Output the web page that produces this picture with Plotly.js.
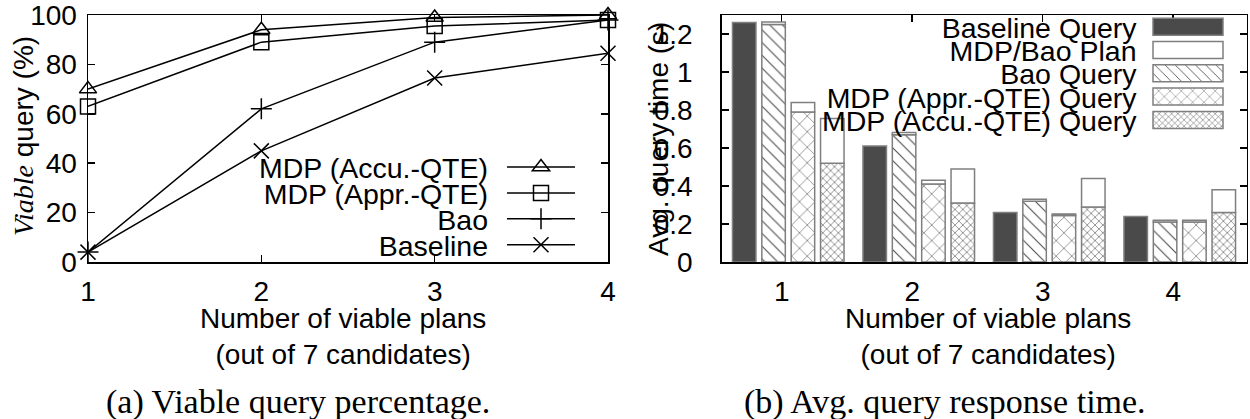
<!DOCTYPE html>
<html>
<head>
<meta charset="utf-8">
<script src="https://cdn.plot.ly/plotly-3.0.1.min.js"></script>
<style>
  html, body { margin: 0; padding: 0; background: #fff; }
  #chart { width: 1250px; height: 419px; }
</style>
</head>
<body>
<div id="chart"></div>
<script>
// Number of viable plans (x categories, shared by both panels)
const plans = [1, 2, 3, 4];

// (a) Viable query percentage (%)
const accuPct = [70, 94, 99, 100];
const apprPct = [63, 89, 95.5, 98];
const baoPct = [4, 62, 89, 98];
const basePct = [4, 45, 74.5, 84.5];

// (b) Average query time (s): execution part
const baselineQuery = [1.26, 0.61, 0.26, 0.24];
const baoQuery = [1.25, 0.67, 0.32, 0.21];
const apprQuery = [0.79, 0.41, 0.245, 0.21];
const accuQuery = [0.52, 0.31, 0.29, 0.26];
// (b) planning overhead stacked on top of each query bar
const baoPlan = [0.013, 0.012, 0.01, 0.01];
const apprPlan = [0.05, 0.02, 0.008, 0.01];
const accuPlan = [0.235, 0.18, 0.15, 0.12];

const W = 1250, H = 419;
const px = v => v / W;
const py = v => (H - v) / H;

const SANS = 'Liberation Sans, Arial, Helvetica, sans-serif';
const SERIF = 'Liberation Serif, Times New Roman, serif';

// ---------- panel (a): lines ----------
function lineTrace(name, y, symbol) {
  return {
    type: 'scatter', mode: 'lines+markers', name, x: plans, y,
    xaxis: 'x', yaxis: 'y', legend: 'legend', cliponaxis: false,
    line: { color: '#000', width: 1.5 },
    marker: { symbol, size: 15, color: '#000', line: { color: '#000', width: 1.5 } }
  };
}

// ---------- panel (b): clustered bars ----------
const slot = 0.225, barW = 0.18;
const at = k => plans.map(g => g + (k - 1.5) * slot);
const EDGE = '#7f7f7f';
const INK = '#4a4a4a';

function barTrace(name, k, y, marker, rank) {
  return {
    type: 'bar', name, x: at(k), y, width: barW,
    xaxis: 'x2', yaxis: 'y2', legend: 'legend2', legendrank: rank,
    marker: Object.assign({ line: { color: EDGE, width: 1.5 } }, marker)
  };
}
const hatch = (shape, size, solidity) => ({
  color: '#fff',
  pattern: { shape, size, solidity, fgcolor: INK, bgcolor: '#fff', fillmode: 'replace' }
});

const traces = [
  lineTrace('MDP (Accu.-QTE)', accuPct, 'triangle-up-open'),
  lineTrace('MDP (Appr.-QTE)', apprPct, 'square-open'),
  lineTrace('Bao', baoPct, 'cross-thin-open'),
  lineTrace('Baseline', basePct, 'x-thin-open'),

  barTrace('Baseline Query', 0, baselineQuery, { color: INK }, 1),
  barTrace('Bao Query', 1, baoQuery, hatch('\\', 9, 0.12), 3),
  barTrace('MDP (Appr.-QTE) Query', 2, apprQuery, hatch('x', 11, 0.1), 4),
  barTrace('MDP (Accu.-QTE) Query', 3, accuQuery, hatch('x', 5.5, 0.2), 5),
  {
    type: 'bar', name: 'MDP/Bao Plan',
    x: [...at(1), ...at(2), ...at(3)],
    y: [...baoPlan, ...apprPlan, ...accuPlan],
    base: [...baoQuery, ...apprQuery, ...accuQuery],
    width: barW, xaxis: 'x2', yaxis: 'y2', legend: 'legend2', legendrank: 2,
    marker: { color: '#fff', line: { color: EDGE, width: 1.5 } }
  }
];

const axisBase = {
  showline: true, linecolor: '#000', linewidth: 1.5, mirror: 'ticks',
  ticks: 'inside', ticklen: 7, tickwidth: 1.5, tickcolor: '#000',
  showgrid: false, zeroline: false, fixedrange: true,
  ticklabeloverflow: 'allow',
  tickfont: { family: SANS, size: 28, color: '#000' }
};
const yDomain = [py(262), py(15)];
const XTITLE = 'Number of viable plans<br>(out of 7 candidates)';

const layout = {
  width: W, height: H,
  margin: { l: 0, r: 0, t: 0, b: 0 },
  paper_bgcolor: '#fff', plot_bgcolor: '#fff',
  font: { family: SANS, size: 28, color: '#000' },
  barmode: 'overlay', showlegend: true,
  xaxis: Object.assign({}, axisBase, {
    domain: [px(88), px(608)], range: [1, 4], tickvals: plans,
    anchor: 'y', ticklabelstandoff: 4
  }),
  yaxis: Object.assign({}, axisBase, {
    domain: yDomain, range: [0, 100], tickvals: [0, 20, 40, 60, 80, 100],
    anchor: 'x', ticklabelstandoff: 4
  }),
  xaxis2: Object.assign({}, axisBase, {
    domain: [px(721.7), px(1246.7)], range: [0.49, 4.513],
    tickvals: plans.map(g => g - 0.05), ticktext: plans.map(String),
    anchor: 'y2', layer: 'below traces', ticklabelstandoff: 4
  }),
  yaxis2: Object.assign({}, axisBase, {
    domain: yDomain, range: [0, 1.3], dtick: 0.2, anchor: 'x2', ticklabelstandoff: 22
  }),
  legend: {
    x: 0, y: 1, xanchor: 'left', yanchor: 'top', bgcolor: 'rgba(0,0,0,0)',
    borderwidth: 0, font: { family: SANS, size: 28.5, color: '#000' }
  },
  legend2: {
    x: 0.6, y: 1, xanchor: 'left', yanchor: 'top', bgcolor: 'rgba(0,0,0,0)',
    borderwidth: 0, font: { family: SANS, size: 28.5, color: '#000' }
  },
  annotations: [
    {
      text: '<i><span style="font-family:Liberation Serif">Viable</span></i> query (%)',
      xref: 'paper', yref: 'paper', x: px(23), y: py(136), textangle: -90,
      showarrow: false, xanchor: 'center', yanchor: 'middle',
      font: { family: SANS, size: 28, color: '#000' }
    },
    {
      text: 'Avg. query time (s)',
      xref: 'paper', yref: 'paper', x: px(658), y: py(139), textangle: -90,
      showarrow: false, xanchor: 'center', yanchor: 'middle',
      font: { family: SANS, size: 28, color: '#000' }
    },
    {
      text: XTITLE,
      xref: 'paper', yref: 'paper', x: px(343), y: py(336), 
      showarrow: false, xanchor: 'center', yanchor: 'middle',
      font: { family: SANS, size: 28, color: '#000' }
    },
    {
      text: XTITLE,
      xref: 'paper', yref: 'paper', x: px(988), y: py(336),
      showarrow: false, xanchor: 'center', yanchor: 'middle',
      font: { family: SANS, size: 28, color: '#000' }
    },
    {
      text: '(a) Viable query percentage.',
      xref: 'paper', yref: 'paper', x: px(298), y: py(402),
      showarrow: false, xanchor: 'center', yanchor: 'middle',
      font: { family: SERIF, size: 34, color: '#000' }
    },
    {
      text: '(b) Avg. query response time.',
      xref: 'paper', yref: 'paper', x: px(945), y: py(402),
      showarrow: false, xanchor: 'center', yanchor: 'middle',
      font: { family: SERIF, size: 34, color: '#000' }
    }
  ]
};

// Legends in the gnuplot style: label on the left, right-aligned, sample on the right.
const legendStyle = {
  lines: { x: 507, y: 167, step: 25.9, gap: 19, w: 68, h: 0 },
  bars: { x: 1153, y: 26.7, step: 23.3, gap: 16.5, w: 70, h: 17 }
};

function flipLegend(lg, o) {
  lg.setAttribute('transform', `translate(${o.x},${o.y})`);
  lg.querySelectorAll('rect.bg').forEach(r => { r.style.display = 'none'; });
  lg.querySelectorAll('.scrollbox').forEach(sb => {
    sb.removeAttribute('clip-path');
    sb.setAttribute('transform', '');
  });
  lg.querySelectorAll('.groups').forEach(g => g.setAttribute('transform', ''));
  lg.querySelectorAll('.traces').forEach((t, i) => {
    t.setAttribute('transform', `translate(0,${i * o.step})`);
    t.querySelectorAll('text').forEach(tx => {
      tx.setAttribute('x', -o.gap);
      tx.setAttribute('text-anchor', 'end');
      tx.style.textAnchor = 'end';
      tx.querySelectorAll('tspan').forEach(s => { if (s.hasAttribute('x')) s.setAttribute('x', -o.gap); });
    });
    t.querySelectorAll('.legendlines path').forEach(p => p.setAttribute('d', `M0,0h${o.w}`));
    t.querySelectorAll('path.scatterpts').forEach(p => p.setAttribute('transform', `translate(${o.w / 2},0)`));
    if (o.h > 0) {
      t.querySelectorAll('.legendpoints path').forEach(p => {
        p.setAttribute('d', `M0,${-o.h / 2}h${o.w}v${o.h}h${-o.w}Z`);
        p.setAttribute('transform', '');
      });
    }
  });
}

function arrangeLegends() {
  const groups = Array.from(gd.querySelectorAll('g')).filter(g => /^legend\d*$/.test(g.getAttribute('class') || ''));
  groups.forEach(lg => {
    const txt = lg.textContent || '';
    if (txt.indexOf('Baseline Query') >= 0) flipLegend(lg, legendStyle.bars);
    else if (txt.indexOf('Baseline') >= 0) flipLegend(lg, legendStyle.lines);
  });
}

const gd = document.getElementById('chart');
Plotly.newPlot(gd, traces, layout, { staticPlot: true, displayModeBar: false }).then(() => {
  arrangeLegends();
  gd.on('plotly_afterplot', arrangeLegends);
  setTimeout(arrangeLegends, 50);
  setTimeout(arrangeLegends, 400);
});
</script>
</body>
</html>
